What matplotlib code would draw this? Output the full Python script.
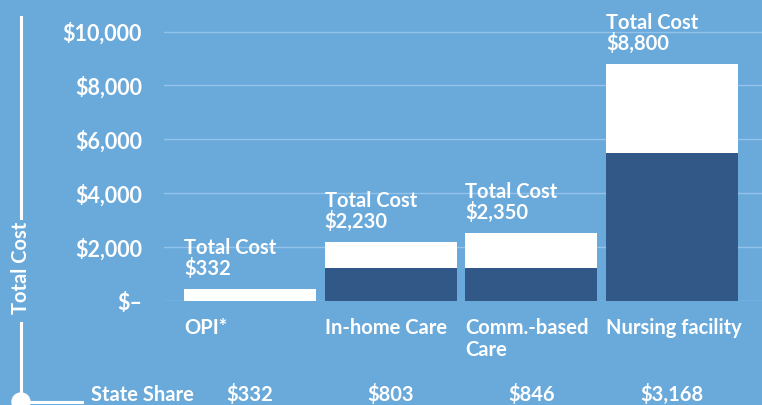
import matplotlib.pyplot as plt
from matplotlib.lines import Line2D
from matplotlib.patches import Ellipse
import numpy as np

categories = ["OPI*", "In-home Care", "Comm.-based\nCare", "Nursing facility"]
# bar heights as drawn in the picture
bar_total = [440, 2190, 2520, 8800]
dark_part = [0, 1220, 1220, 5500]
total_labels = ["$332", "$2,230", "$2,350", "$8,800"]
state_share = ["$332", "$803", "$846", "$3,168"]
yticks = [0, 2000, 4000, 6000, 8000, 10000]
ytick_labels = ["$\u2013", "$2,000", "$4,000", "$6,000", "$8,000", "$10,000"]

bg = "#6aaadb"
dark = "#325888"
grid_col = "#93c3e8"
fs = 14.5

plt.rcParams['font.family'] = ['Lato', 'DejaVu Sans']

W, H = 762, 405
fig = plt.figure(figsize=(W / 100, H / 100), dpi=100)
fig.patch.set_facecolor(bg)

def fx(x):
    return x / W

def fy(y):
    return 1 - y / H

# axes: left at x=164px, baseline at y=301px
ax = fig.add_axes([fx(164), fy(301), 1 - fx(164), 301 / H])
ax.set_facecolor(bg)
px_per_unit = 53.9 / 2000
ax.set_ylim(0, 301 / px_per_unit)
step = 140.7
ax.set_xlim(-86 / step, (762 - 250) / step)

x = np.arange(len(categories))
w = 132 / step
white_part = np.array(bar_total) - np.array(dark_part)
ax.bar(x, dark_part, width=w, color=dark, zorder=2)
ax.bar(x, white_part, width=w, bottom=dark_part, color="white", zorder=2)

for xi, top, lab in zip(x, bar_total, total_labels):
    ax.annotate("Total Cost\n" + lab, (xi - w / 2, top), xytext=(0, 7),
                textcoords="offset points", ha="left", va="bottom",
                color="white", fontsize=fs, fontweight="bold", linespacing=1.0)

for spine in ax.spines.values():
    spine.set_visible(False)
ax.set_yticks(yticks, ytick_labels)
ax.tick_params(axis="y", length=0, pad=16, labelsize=15.5, labelcolor="white")
for t in ax.get_yticklabels():
    t.set_fontweight("bold")
ax.yaxis.grid(True, color=grid_col, lw=1, zorder=1)

ax.set_xticks(x - w / 2, categories, ha="left", va="top")
ax.tick_params(axis="x", length=0, pad=12.5, labelsize=fs, labelcolor="white")
for t in ax.get_xticklabels():
    t.set_fontweight("bold")
    t.set_linespacing(1.1)

# state share row
for xi, lab in zip(x, state_share):
    ax.text(xi, -(401 - 301) / 301, lab, transform=ax.get_xaxis_transform(),
            ha="center", va="baseline", color="white", fontsize=fs,
            fontweight="bold", clip_on=False)
fig.text(fx(91), fy(401), "State Share", ha="left", va="baseline",
         color="white", fontsize=fs, fontweight="bold")

# left axis decoration
fig.add_artist(Line2D([fx(21), fx(21)], [fy(17), fy(218)], color="white", lw=2.2))
fig.add_artist(Line2D([fx(21), fx(21)], [fy(323), fy(402)], color="white", lw=2.2))
fig.add_artist(Line2D([fx(21), fx(82)], [fy(402), fy(402)], color="white", lw=2.2))
fig.add_artist(Ellipse((fx(21), fy(402)), 18 / W, 18 / H, color="white"))
fig.text(fx(21), fy(268), "Total Cost", rotation=90, ha="center", va="center",
         color="white", fontsize=fs, fontweight="bold")

fig.savefig("out.png", dpi=100, facecolor=bg)
